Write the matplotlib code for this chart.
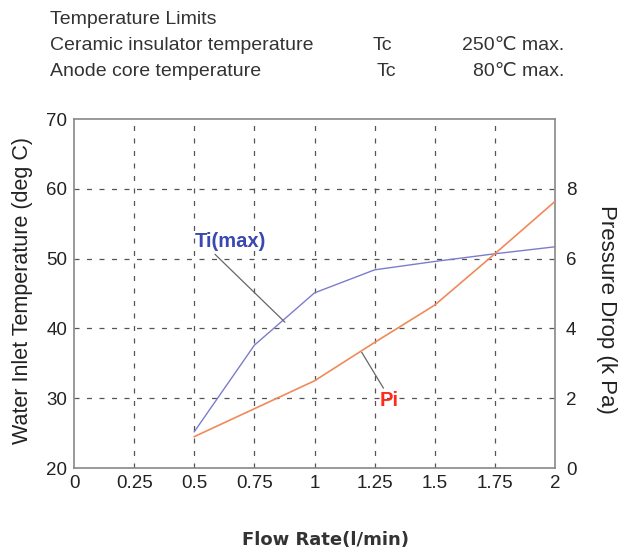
import matplotlib.pyplot as plt

plt.rcParams['font.family'] = ['Liberation Sans', 'DejaVu Sans']

flow = [0.5, 0.75, 1.0, 1.25, 1.5, 1.75, 2.0]
ti_max = [25.2, 37.6, 45.1, 48.4, 49.6, 50.7, 51.7]
pi_drop = [0.9, 1.7, 2.5, 3.6, 4.67, 6.14, 7.64]

x_ticks = [0, 0.25, 0.5, 0.75, 1, 1.25, 1.5, 1.75, 2]
x_labels = ['0', '0.25', '0.5', '0.75', '1', '1.25', '1.5', '1.75', '2']
temp_ticks = [20, 30, 40, 50, 60, 70]
press_ticks = [0, 2, 4, 6, 8]

fig = plt.figure(figsize=(6.21, 5.5), dpi=100)
ax = fig.add_axes([0.1192, 0.149, 0.7745, 0.6345])

ax.plot(flow, ti_max, color='#7c7ccc', lw=1.0)
ax.set_xlim(0, 2)
ax.set_ylim(20, 70)
ax.set_xticks(x_ticks)
ax.set_xticklabels(x_labels)
ax.set_yticks(temp_ticks)
ax.grid(True, color='#555555', linestyle=(0, (4, 6)), lw=0.9)
# no dashes on top of the frame
ax.xaxis.get_gridlines()[0].set_visible(False)
ax.xaxis.get_gridlines()[-1].set_visible(False)
ax.yaxis.get_gridlines()[0].set_visible(False)
ax.yaxis.get_gridlines()[-1].set_visible(False)
ax.tick_params(length=0, labelsize=13.5, colors='#222222', pad=5)
for s in ax.spines.values():
    s.set_color('#888888')
    s.set_linewidth(1.2)

ax2 = ax.twinx()
ax2.plot(flow, pi_drop, color='#f08a5a', lw=1.2)
ax2.set_ylim(0, 10)
ax2.set_yticks(press_ticks)
ax2.tick_params(length=0, labelsize=13.5, colors='#222222', pad=8)
for s in ax2.spines.values():
    s.set_visible(False)

# axis titles placed by hand
fig.text(23 / 621, 1 - 291 / 550, 'Water Inlet Temperature (deg C)', rotation=90,
         ha='center', va='center', fontsize=15.5, color='#222222')
fig.text(607 / 621, 1 - 309 / 550, 'Pressure Drop (k Pa)', rotation=-90,
         ha='center', va='center', fontsize=16, color='#222222')

# labels with leader lines
ax.annotate('Ti(max)', xy=(0.877, 40.9), xytext=(0.5, 51.6),
            fontsize=14.5, fontweight='bold', color='#3a48b0',
            arrowprops=dict(arrowstyle='-', color='#666666', lw=0.9,
                            shrinkA=0, shrinkB=0, relpos=(0.25, 0)))
ax.annotate('Pi', xy=(1.196, 36.6), xytext=(1.27, 28.9),
            fontsize=14.5, fontweight='bold', color='#ff2a1a',
            arrowprops=dict(arrowstyle='-', color='#666666', lw=0.9,
                            shrinkA=0, shrinkB=0, relpos=(0.3, 1)))

fig.text(326 / 621, 1 - 540 / 550, 'Flow Rate(l/min)', ha='center', va='center',
         fontsize=13, fontweight='bold', color='#333333', family='DejaVu Sans')

hdr = dict(fontsize=14, color='#333333', va='center')
fig.text(50 / 621, 1 - 20 / 550, 'Temperature Limits', ha='left', **hdr)
fig.text(50 / 621, 1 - 46 / 550, 'Ceramic insulator temperature', ha='left', **hdr)
fig.text(373 / 621, 1 - 46 / 550, 'Tc', ha='left', **hdr)
fig.text(564 / 621, 1 - 46 / 550, '250\u2103 max.', ha='right', **hdr)
fig.text(50 / 621, 1 - 72 / 550, 'Anode core temperature', ha='left', **hdr)
fig.text(377 / 621, 1 - 72 / 550, 'Tc', ha='left', **hdr)
fig.text(564 / 621, 1 - 72 / 550, '80\u2103 max.', ha='right', **hdr)

fig.savefig('out.png', dpi=100)
